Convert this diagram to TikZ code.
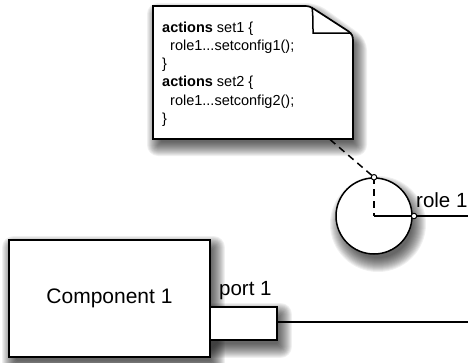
\documentclass[tikz,border=0pt]{standalone}
\usepackage{fontspec}
\setmainfont{Liberation Sans}
\usetikzlibrary{backgrounds}
\tikzset{shadowlayer/.style={black,opacity=0.06}}
\newcommand\myrshadow[1]{%
  \foreach \k [evaluate=\k as \rc using {max(10-\k,0)+1},
               evaluate=\k as \ax using {\k-6},
               evaluate=\k as \ay using {\k-3},
               evaluate=\k as \bx using {14-\k},
               evaluate=\k as \by using {17-\k}] in {0,1,...,14}{%
    \fill[shadowlayer,rounded corners=\rc pt]
      ([shift={(\ax,\ay)}]#1.north west) rectangle ([shift={(\bx,\by)}]#1.south east);}}
\begin{document}
\begin{tikzpicture}[x=1pt,y=-1pt,
  box/.style={draw,fill=white,line width=1.7pt},
  lbl/.style={font=\fontsize{20.5}{24}\selectfont,inner sep=0pt,anchor=base west},
  pin/.style={circle,draw,fill=white,line width=1pt,inner sep=0pt,minimum size=5.5pt},
  wire/.style={line width=1.3pt},
  dwire/.style={line width=1.5pt,dash pattern=on 7pt off 5pt},
]
\useasboundingbox (0,0) rectangle (468,362);
% note
\path[box] (153,6) -- (305,6) .. controls (309,6) and (311,7) .. (314,9) -- (348,31)
  .. controls (352,34) and (353,36) .. (353,41) -- (353,139) -- (153,139) -- cycle;
\draw[line width=1.5pt] (312,7) .. controls (313,14) and (313,24) .. (313,33) -- (351,33);
\node[anchor=north west,align=left,inner sep=0pt,font=\fontsize{14.5}{18.3}\selectfont] (note) at (162,21.3)
  {\textbf{actions} set1 \{\\
   \hspace*{8pt}role1...setconfig1();\\
   \}\\
   \textbf{actions} set2 \{\\
   \hspace*{8pt}role1...setconfig2();\\
   \}};
\coordinate (notebot) at (330,139.5);
% role circle
\node[circle,draw,fill=white,line width=1.5pt,minimum size=76pt,inner sep=0pt] (role) at (374,216) {};
\coordinate (roleend) at (468,216);
\coordinate (rolepin) at (414,216);
\draw[dwire] (notebot) -- (role.north);
\draw[dwire] (role.north) -- (role.center);
\draw[wire] (role.center) -- (roleend);
\node[pin] (p1) at (role.north) {};
\node[pin] (p2) at (rolepin) {};
\node[lbl] (rolelbl) at (416,207) {role 1};
% component
\node[box,minimum width=201pt,minimum height=117pt,inner sep=0pt,font=\fontsize{21}{24}\selectfont] (comp) at (109.5,298.5) {Component 1};
\node[box,minimum width=67pt,minimum height=33pt,inner sep=0pt] (port) at (243.5,323.5) {};
\coordinate (portend) at (468,322);
\draw[wire] (port.east |- portend) -- (portend);
\node[lbl] (portlbl) at (219,295) {port 1};
% shadows
\begin{scope}[on background layer]
  \myrshadow{comp}
  \myrshadow{port}
  \foreach \k [evaluate=\k as \rc using {max(10-\k,0)+1}] in {0,1,...,14}{%
    \fill[shadowlayer,rounded corners=\rc pt,shift={(4,7)}]
      (143+\k,-4+\k) -- (313-0.4*\k,-4+\k) -- (363-\k,32+0.4*\k) -- (363-\k,149-\k) -- (143+\k,149-\k) -- cycle;}
  \foreach \k in {0,1,...,14}{%
    \fill[shadowlayer] ([shift={(4,8)}]role.center) circle[radius={(48-\k)*1pt}];}
\end{scope}
\end{tikzpicture}
\end{document}
